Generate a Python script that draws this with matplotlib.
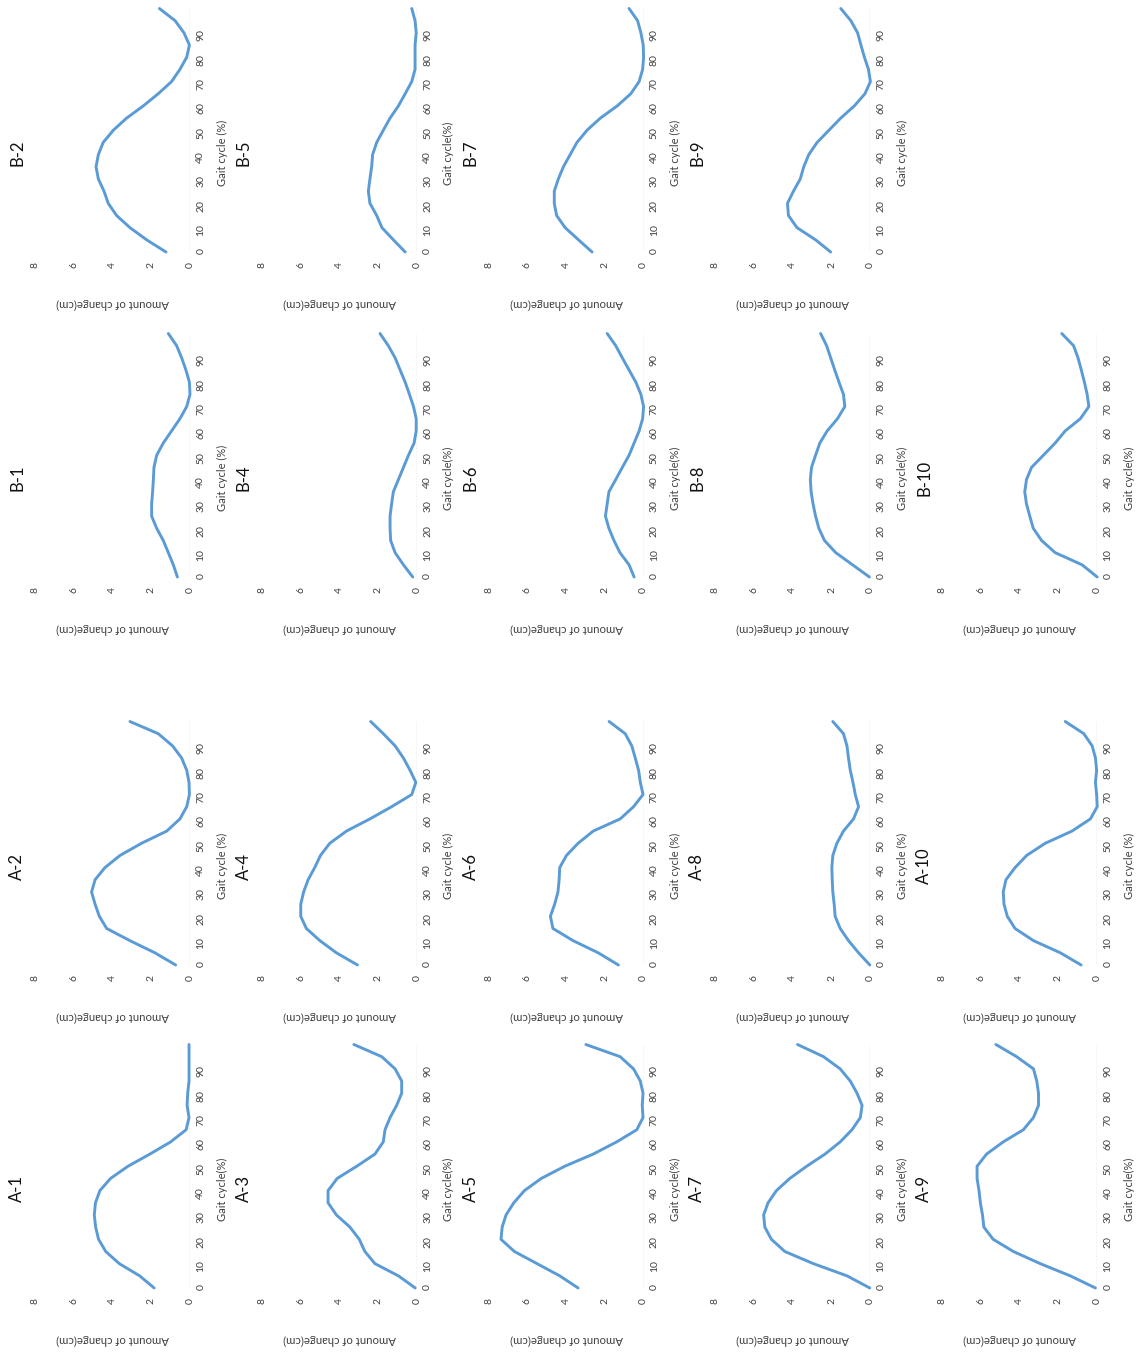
import matplotlib
matplotlib.use('Agg')
import matplotlib.pyplot as plt

plt.rcParams['font.family'] = ['Lato', 'DejaVu Sans']

# Gait cycle (%) sample positions
gait = [0, 5, 10, 15, 20, 25, 30, 35, 40, 45, 50, 55, 60, 65, 70, 75, 80, 85, 90, 95, 100]

# Amount of change (cm)
A1 = [1.85, 2.6, 3.65, 4.35, 4.72, 4.87, 4.94, 4.88, 4.65, 4.1, 3.2, 2.07, 1.0, 0.2, 0.05, 0.15, 0.12, 0.05, 0.05, 0.05, 0.05]
A2 = [0.74, 1.81, 3.1, 4.3, 4.68, 4.9, 5.08, 4.9, 4.39, 3.61, 2.5, 1.2, 0.52, 0.17, 0.03, 0.05, 0.17, 0.43, 0.9, 1.64, 3.1]
A3 = [0.08, 0.95, 2.16, 2.68, 2.97, 3.45, 4.15, 4.58, 4.58, 4.11, 3.1, 2.16, 1.73, 1.64, 1.38, 1.04, 0.78, 0.78, 1.12, 1.81, 3.25]
A4 = [3.06, 4.15, 5.0, 5.7, 5.99, 5.99, 5.84, 5.61, 5.27, 4.97, 4.49, 3.63, 2.42, 1.3, 0.26, 0.05, 0.35, 0.69, 1.12, 1.73, 2.38]
A5 = [3.38, 4.33, 5.5, 6.67, 7.36, 7.3, 7.1, 6.7, 6.15, 5.28, 4.07, 2.6, 1.39, 0.35, 0.03, 0.07, 0.03, 0.17, 0.52, 1.21, 2.98]
A6 = [1.3, 2.34, 3.64, 4.68, 4.81, 4.59, 4.42, 4.36, 4.33, 3.98, 3.38, 2.6, 1.21, 0.52, 0.03, 0.17, 0.26, 0.43, 0.61, 0.95, 1.78]
A7 = [0.03, 1.21, 2.94, 4.42, 5.11, 5.45, 5.51, 5.28, 4.85, 4.16, 3.29, 2.34, 1.56, 0.95, 0.52, 0.43, 0.69, 1.04, 1.56, 2.42, 3.76]
A8 = [0.03, 0.61, 1.13, 1.56, 1.82, 1.87, 1.94, 1.97, 1.99, 1.94, 1.73, 1.39, 0.87, 0.61, 0.78, 0.9, 1.04, 1.13, 1.21, 1.39, 1.94]
A9 = [0.09, 1.39, 2.94, 4.33, 5.37, 5.85, 5.92, 6.03, 6.1, 6.2, 6.2, 5.71, 4.85, 3.81, 3.29, 3.03, 3.03, 3.12, 3.29, 4.16, 5.23]
A10 = [0.83, 1.9, 3.29, 4.24, 4.64, 4.81, 4.85, 4.71, 4.24, 3.64, 2.68, 1.3, 0.35, 0.0, 0.03, 0.09, 0.03, 0.09, 0.26, 0.69, 1.65]
B1 = [0.65, 0.86, 1.12, 1.38, 1.72, 1.98, 1.98, 1.93, 1.89, 1.86, 1.72, 1.38, 0.95, 0.52, 0.17, 0.0, 0.03, 0.21, 0.43, 0.69, 1.12]
B2 = [1.24, 2.24, 3.1, 3.79, 4.22, 4.44, 4.73, 4.85, 4.73, 4.48, 3.96, 3.27, 2.41, 1.64, 0.95, 0.52, 0.17, 0.03, 0.31, 0.77, 1.58]
B4 = [0.21, 0.69, 1.12, 1.35, 1.38, 1.38, 1.3, 1.21, 0.95, 0.69, 0.43, 0.14, 0.03, 0.03, 0.17, 0.38, 0.6, 0.86, 1.12, 1.47, 1.9]
B5 = [0.6, 1.21, 1.8, 2.07, 2.42, 2.5, 2.42, 2.33, 2.28, 2.07, 1.73, 1.38, 0.95, 0.6, 0.26, 0.09, 0.09, 0.09, 0.03, 0.09, 0.26]
B6 = [0.49, 0.75, 1.22, 1.53, 1.79, 1.97, 1.88, 1.79, 1.44, 1.1, 0.75, 0.49, 0.23, 0.05, 0.0, 0.14, 0.4, 0.75, 1.1, 1.44, 1.88]
B7 = [2.66, 3.36, 4.05, 4.49, 4.61, 4.61, 4.4, 4.14, 3.79, 3.44, 2.92, 2.23, 1.36, 0.66, 0.23, 0.05, 0.0, 0.02, 0.14, 0.31, 0.75]
B8 = [0.05, 0.92, 1.79, 2.37, 2.66, 2.83, 2.96, 3.06, 3.1, 3.04, 2.83, 2.61, 2.23, 1.7, 1.32, 1.39, 1.62, 1.84, 2.05, 2.26, 2.57]
B9 = [2.05, 2.83, 3.79, 4.23, 4.28, 3.97, 3.62, 3.44, 3.18, 2.75, 2.14, 1.53, 0.83, 0.28, 0.0, 0.1, 0.31, 0.49, 0.66, 1.01, 1.53]
B10 = [0.0, 0.78, 2.17, 2.87, 3.3, 3.48, 3.65, 3.74, 3.65, 3.39, 2.78, 2.17, 1.65, 0.87, 0.43, 0.52, 0.66, 0.82, 0.99, 1.22, 1.83]

amount_ticks = [0, 2, 4, 6, 8]
gait_ticks = [0, 10, 20, 30, 40, 50, 60, 70, 80, 90]

# (title, series, gait-axis label)
panels = [
    [("B-2", B2, "Gait cycle (%)"), ("B-5", B5, "Gait cycle(%)"), ("B-7", B7, "Gait cycle (%)"), ("B-9", B9, "Gait cycle (%)"), None],
    [("B-1", B1, "Gait cycle (%)"), ("B-4", B4, "Gait cycle(%)"), ("B-6", B6, "Gait cycle(%)"), ("B-8", B8, "Gait cycle(%)"), ("B-10", B10, "Gait cycle(%)")],
    [("A-2", A2, "Gait cycle (%)"), ("A-4", A4, "Gait cycle (%)"), ("A-6", A6, "Gait cycle (%)"), ("A-8", A8, "Gait cycle (%)"), ("A-10", A10, "Gait cycle (%)")],
    [("A-1", A1, "Gait cycle(%)"), ("A-3", A3, "Gait cycle(%)"), ("A-5", A5, "Gait cycle(%)"), ("A-7", A7, "Gait cycle(%)"), ("A-9", A9, "Gait cycle(%)")],
]

W, H = 1139, 1353
fig = plt.figure(figsize=(W / 100, H / 100), dpi=100)
fig.patch.set_facecolor('white')

col_pitch = 226.8
row_base = [252, 577, 965, 1288]   # pixel row of gait 0
ax_w, ax_h = 155, 243.5
LINE = '#5B9BD5'
TXT = '#404040'

for r, row in enumerate(panels):
    y0 = row_base[r]
    for c, item in enumerate(row):
        if item is None:
            continue
        title, vals, glabel = item
        x0 = col_pitch * c
        left = x0 + 35
        ax = fig.add_axes([left / W, 1 - y0 / H, ax_w / W, ax_h / H])
        ax.axvline(0, color='#D9D9D9', lw=1.0, zorder=1)
        ax.plot(vals, gait, color=LINE, lw=2.1, clip_on=False, zorder=3,
                solid_joinstyle='round', solid_capstyle='round')
        ax.set_xlim(8, 0)
        ax.set_ylim(0, 100)
        for s in ax.spines.values():
            s.set_visible(False)
        ax.set_xticks(amount_ticks)
        ax.set_yticks(gait_ticks)
        ax.yaxis.tick_right()
        ax.tick_params(length=0, labelsize=7.5, labelcolor=TXT)
        ax.tick_params(axis='y', labelrotation=90, pad=4.5)
        ax.tick_params(axis='x', labelrotation=90, pad=7.5)
        ax.set_facecolor('none')
        # title (left), gait label (right), amount label (bottom)
        fig.text((x0 + 17) / W, 1 - (y0 - 99) / H, title, rotation=90,
                 ha='center', va='center', fontsize=12, color='#111111')
        fig.text((x0 + 222) / W, 1 - (y0 - 99) / H, glabel, rotation=90,
                 ha='center', va='center', fontsize=8, color=TXT)
        fig.text((left + ax_w / 2) / W, 1 - (y0 + 52) / H, 'Amount of change(cm)',
                 rotation=180, ha='center', va='center', fontsize=8.2, color=TXT)

fig.savefig('out.png', dpi=100, facecolor='white')
